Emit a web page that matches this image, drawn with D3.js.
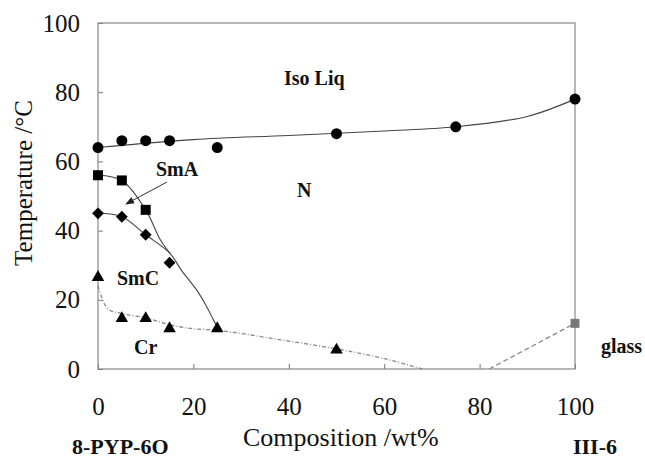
<!DOCTYPE html>
<html>
<head>
<meta charset="utf-8">
<script src="https://cdn.jsdelivr.net/npm/d3@7"></script>
<style>
body { margin: 0; background: #fff; }
text { font-family: "Liberation Serif", "Times New Roman", serif; fill: #111; }
.lbl { font-weight: bold; font-size: 20px; }
</style>
</head>
<body>
<script>
//measured points (composition wt%, temperature)
var isoPts = [[0,64],[5,66],[10,66],[15,66],[25,64],[50,68],[75,70],[100,78]];
var smaPts = [[0,56],[5,54.5],[10,46]];
var smcPts = [[0,45],[5,44],[10,38.8],[15,30.7]];
var crPts = [[0,26.5],[5,14.6],[10,14.6],[15,11.7],[25,11.7],[50,5.5]];
var glassPts = [[100,13.2]];

//drawn guide curves
var isoCurve = [[0,64],[20,66.3],[40,67.5],[60,68.8],[75,70],[90,73],[100,78]];
var smaCurve = [[0,56],[5,54.5],[10,46],[13,37.5],[15.1,33.4]];
var smcCurve = [[0,45],[5,44],[10,38.8],[15.1,33.4],[17.5,28.5],[20.7,22.8],[22.8,18],[24.2,14.2],[25.2,11.7]];
var crCurve = [[0,24],[2,17.5],[5,16],[10,14.8],[15,12.8],[20,11.6],[25,11.2],[38,8.5],[50,5.8],[60,3],[68,0]];
var glassCurve = [[82,0],[100,13.2]];

var ticks = [0, 20, 40, 60, 80, 100];

(function(){

var width = 645, height = 460;
var plotLeft = 98, plotRight = 575, plotTop = 23, plotBottom = 369;

var x = d3.scaleLinear().domain([0, 100]).range([plotLeft, plotRight]);
var y = d3.scaleLinear().domain([0, 100]).range([plotBottom, plotTop]);

var svg = d3.select("body").append("svg")
    .attr("width", width)
    .attr("height", height);

svg.append("defs").append("marker")
    .attr("id", "arr")
    .attr("viewBox", "0 0 10 10")
    .attr("refX", 9).attr("refY", 5)
    .attr("markerWidth", 9).attr("markerHeight", 9)
    .attr("markerUnits", "userSpaceOnUse")
    .attr("orient", "auto")
    .append("path")
    .attr("d", "M0,1L10,5L0,9Z")
    .attr("fill", "#222");

//axes with inward ticks
var yAxis = svg.append("g")
    .attr("transform", "translate(" + plotLeft + ",0)")
    .call(d3.axisLeft(y).tickValues(ticks).tickSizeInner(-5).tickSizeOuter(0).tickPadding(18));
var xAxis = svg.append("g")
    .attr("transform", "translate(0," + plotBottom + ")")
    .call(d3.axisBottom(x).tickValues(ticks).tickSizeInner(-5).tickSizeOuter(0).tickPadding(28));
[xAxis, yAxis].forEach(function(a){
    a.select(".domain").remove();
    a.selectAll("line").attr("stroke", "#777");
    a.selectAll("text")
        .style("font-family", "'Liberation Serif', serif")
        .style("font-size", "25px")
        .attr("fill", "#111");
});

//frame
svg.append("rect")
    .attr("x", plotLeft).attr("y", plotTop)
    .attr("width", plotRight - plotLeft).attr("height", plotBottom - plotTop)
    .attr("fill", "none")
    .attr("stroke", "#888")
    .attr("stroke-width", 1.2);

var line = d3.line()
    .x(function(d){ return x(d[0]); })
    .y(function(d){ return y(d[1]); })
    .curve(d3.curveCatmullRom);

[isoCurve, smaCurve, smcCurve].forEach(function(c){
    svg.append("path").datum(c)
        .attr("d", line)
        .attr("fill", "none")
        .attr("stroke", "#444")
        .attr("stroke-width", 1.1);
});

svg.append("path").datum(crCurve)
    .attr("d", line)
    .attr("fill", "none")
    .attr("stroke", "#888")
    .attr("stroke-width", 1.3)
    .attr("stroke-dasharray", "4,2,1,2");

svg.append("path").datum(glassCurve)
    .attr("d", line)
    .attr("fill", "none")
    .attr("stroke", "#888")
    .attr("stroke-width", 1.3)
    .attr("stroke-dasharray", "5,3");

//markers
function marks(data, type, size, color, rot){
    svg.selectAll(null)
        .data(data)
        .enter()
        .append("path")
        .attr("d", d3.symbol().type(type).size(size))
        .attr("transform", function(d){
            return "translate(" + x(d[0]) + "," + y(d[1]) + ") rotate(" + (rot || 0) + ")";
        })
        .attr("fill", color);
}
marks(isoPts, d3.symbolCircle, 95, "#000");
marks(smaPts, d3.symbolSquare, 100, "#000");
marks(smcPts, d3.symbolSquare, 70, "#000", 45);
marks(crPts, d3.symbolTriangle, 68, "#000");
marks(glassPts, d3.symbolSquare, 80, "#777");

//SmA pointer
svg.append("line")
    .attr("x1", 167).attr("y1", 182)
    .attr("x2", 126).attr("y2", 204)
    .attr("stroke", "#333")
    .attr("stroke-width", 1)
    .attr("marker-end", "url(#arr)");

//phase labels
var labels = [
    {t: "Iso Liq", x: 284, y: 85},
    {t: "N", x: 297, y: 197},
    {t: "SmA", x: 156, y: 176},
    {t: "SmC", x: 117, y: 285},
    {t: "Cr", x: 134, y: 354},
    {t: "glass", x: 601, y: 353}
];
svg.selectAll(".lbl")
    .data(labels)
    .enter()
    .append("text")
    .attr("class", "lbl")
    .attr("x", function(d){ return d.x; })
    .attr("y", function(d){ return d.y; })
    .text(function(d){ return d.t; });

svg.append("text")
    .attr("x", 72).attr("y", 454)
    .style("font-weight", "bold").style("font-size", "22px")
    .text("8-PYP-6O");
svg.append("text")
    .attr("x", 595).attr("y", 454)
    .attr("text-anchor", "middle")
    .style("font-weight", "bold").style("font-size", "22px")
    .text("III-6");

//axis titles
svg.append("text")
    .attr("x", 243).attr("y", 446)
    .style("font-size", "26px")
    .text("Composition /wt%");
svg.append("text")
    .attr("transform", "translate(32,183) rotate(-90)")
    .attr("text-anchor", "middle")
    .style("font-size", "25px")
    .text("Temperature /\u00B0C");

})();
</script>
</body>
</html>
